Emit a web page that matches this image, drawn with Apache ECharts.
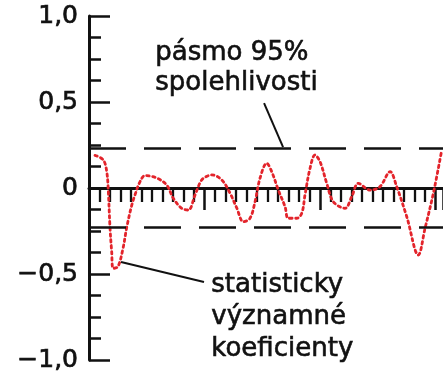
<!DOCTYPE html>
<html>
<head>
<meta charset="utf-8">
<style>
  html, body { margin: 0; padding: 0; background: #fff; }
  #chart { width: 443px; height: 375px; }
</style>
<script src="https://cdn.jsdelivr.net/npm/echarts@6/dist/echarts.min.js"></script>
</head>
<body>
<div id="chart"></div>
<script>
// Autocorrelation curve: lag positions and coefficient values
const lags = [0.57, 1.36, 1.69, 1.84, 2.0, 2.16, 2.31, 2.76, 3.24, 3.59, 4.07, 4.38, 4.86, 5.33,
  6.45, 7.4, 8.03, 8.83, 9.46, 10.1, 10.57, 10.89, 11.69, 12.64, 13.43, 14.07, 14.7, 15.33,
  15.81, 16.29, 16.92, 17.4, 18.03, 18.67, 18.98, 19.78, 20.26, 20.57, 21.05, 21.52, 22.0,
  22.64, 23.27, 24.38, 25.02, 25.65, 26.76, 27.71, 28.67, 29.3, 30.26, 31.36, 32.0, 32.79, 33.59];
const acf = [0.19, 0.163, 0.095, -0.02, -0.23, -0.37, -0.467, -0.457, -0.35, -0.23, -0.1, -0.04, 0.037, 0.072,
  0.058, 0.017, -0.06, -0.118, -0.128, -0.04, 0.03, 0.056, 0.076, 0.047, -0.03, -0.116, -0.196, -0.176,
  -0.08, 0.058, 0.144, 0.095, -0.012, -0.109, -0.176, -0.176, -0.147, -0.04, 0.115, 0.192, 0.153,
  0.027, -0.08, -0.118, -0.05, 0.027, -0.012, 0.008, 0.095, 0.008, -0.167, -0.39, -0.234, -0.031, 0.22];

// 95 % confidence band
const band = 0.235;

// y tick labels
const yTicks = [-1, -0.5, 0, 0.5, 1];
const yTickLabels = ['\u22121,0', '\u22120,5', '0', '0,5', '1,0'];

// annotation texts and the points their leader lines join
const bandNote = ['pásmo 95%', 'spolehlivosti'];
const bandLeader = [[16.67, 0.494], [18.48, 0.238]];
const sigNote = ['statisticky', 'významné', 'koeficienty'];
const sigLeader = [[3.05, -0.43], [10.95, -0.547]];

const ink = '#111';
const font = '"DejaVu Sans", sans-serif';

const chart = echarts.init(document.getElementById('chart'), null, { renderer: 'canvas' });

chart.setOption({
  backgroundColor: '#fff',
  animation: false,
  grid: { left: 89, right: 0, top: 16, bottom: 15, containLabel: false },
  xAxis: {
    type: 'value',
    min: 0,
    max: 33.71,
    interval: 11,
    axisLine: { show: true, onZero: true, lineStyle: { color: ink, width: 3 } },
    axisTick: { show: true, length: 22, lineStyle: { color: ink, width: 2.5 } },
    minorTick: { show: true, splitNumber: 11, length: 14, lineStyle: { color: ink, width: 2.3 } },
    axisLabel: { show: false },
    splitLine: { show: false },
    minorSplitLine: { show: false }
  },
  yAxis: {
    type: 'value',
    min: -1,
    max: 1,
    interval: 0.5,
    axisLine: { show: true, onZero: false, lineStyle: { color: ink, width: 3 } },
    axisTick: { show: true, inside: true, length: 21, lineStyle: { color: ink, width: 2.5 } },
    minorTick: { show: true, splitNumber: 4, length: 12, lineStyle: { color: ink, width: 2.5 } },
    axisLabel: {
      margin: 11,
      color: ink,
      fontFamily: font,
      fontSize: 25,
      textBorderColor: ink,
      textBorderWidth: 0.7,
      padding: [5, 0, 0, 0],
      formatter: v => {
        const i = yTicks.findIndex(t => Math.abs(t - v) < 1e-9);
        return i >= 0 ? yTickLabels[i] : '';
      }
    },
    splitLine: { show: false }
  },
  series: [
    {
      type: 'line',
      data: lags.map((l, i) => [l, acf[i]]),
      smooth: 0.35,
      symbol: 'none',
      lineStyle: { color: '#e3242b', width: 2.8, type: [2.5, 3.5], cap: 'round' },
      z: 3
    },
    {
      // confidence band borders
      type: 'line',
      data: [],
      markLine: {
        silent: true,
        symbol: 'none',
        label: { show: false },
        lineStyle: { color: ink, width: 2.5, type: [37, 18] },
        data: [{ yAxis: band }, { yAxis: -band }]
      },
      z: 2
    },
    {
      // leader lines of the notes
      type: 'line',
      data: [],
      markLine: {
        silent: true,
        symbol: 'none',
        label: { show: false },
        lineStyle: { color: ink, width: 2, type: 'solid' },
        data: [
          [{ coord: bandLeader[0] }, { coord: bandLeader[1] }],
          [{ coord: sigLeader[0] }, { coord: sigLeader[1] }]
        ]
      },
      z: 4
    }
  ],
  graphic: [
    {
      type: 'text',
      left: 155,
      top: 38,
      style: { text: bandNote.join('\n'), font: '26px ' + font, fill: ink, stroke: ink, lineWidth: 0.6, lineHeight: 30 }
    },
    {
      type: 'text',
      left: 211,
      top: 269,
      style: { text: sigNote.join('\n'), font: '26px ' + font, fill: ink, stroke: ink, lineWidth: 0.6, lineHeight: 32 }
    }
  ]
});
</script>
</body>
</html>
